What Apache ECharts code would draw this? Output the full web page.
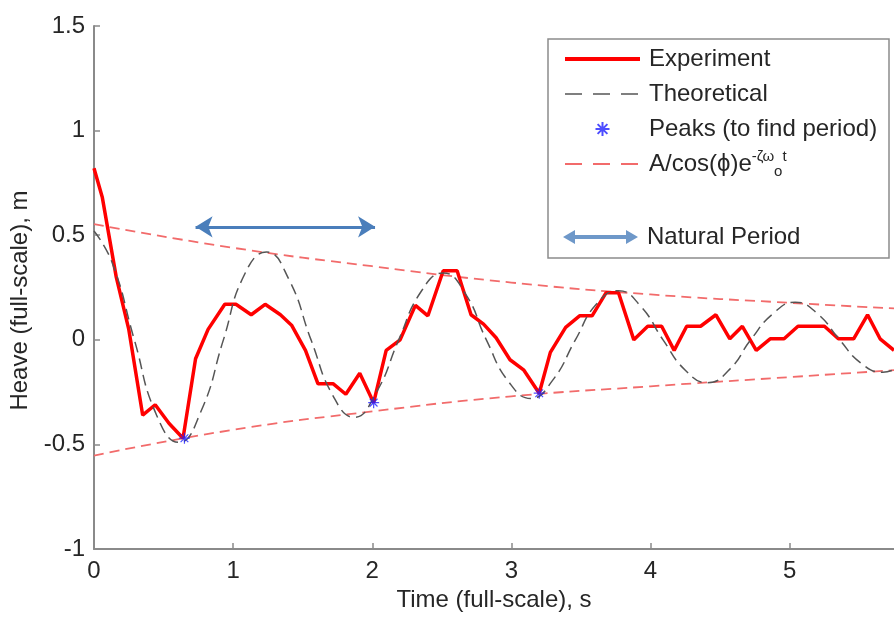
<!DOCTYPE html>
<html>
<head>
<meta charset="utf-8">
<title>Heave decay</title>
<script src="https://cdn.jsdelivr.net/npm/echarts@6/dist/echarts.min.js"></script>
<style>
  html, body { margin: 0; padding: 0; background: #fff; }
  #chart { width: 894px; height: 617px; }
</style>
</head>
<body>
<div id="chart"></div>
<script>
// measured experiment trace (time s, heave m)
const expTime = [0, 0.06, 0.16, 0.25, 0.35, 0.44, 0.54, 0.64, 0.73, 0.82,
  0.94, 1.02, 1.13, 1.23, 1.34, 1.42, 1.52, 1.61, 1.72, 1.81,
  1.91, 2.01, 2.10, 2.20, 2.31, 2.40, 2.51, 2.61, 2.71, 2.80,
  2.89, 2.99, 3.09, 3.20, 3.28, 3.39, 3.49, 3.58, 3.68, 3.77,
  3.88, 3.98, 4.08, 4.17, 4.26, 4.36, 4.47, 4.57, 4.66, 4.76,
  4.86, 4.96, 5.06, 5.16, 5.25, 5.35, 5.46, 5.56, 5.65, 5.75];
const expHeave = [0.82, 0.68, 0.30, 0.05, -0.36, -0.31, -0.40, -0.47, -0.09, 0.05,
  0.17, 0.17, 0.12, 0.17, 0.12, 0.07, -0.05, -0.21, -0.21, -0.26,
  -0.16, -0.30, -0.05, 0.0, 0.165, 0.115, 0.33, 0.33, 0.12, 0.075,
  0.01, -0.095, -0.145, -0.255, -0.06, 0.06, 0.115, 0.115, 0.225, 0.225,
  0.0, 0.065, 0.065, -0.05, 0.065, 0.065, 0.12, 0.005, 0.065, -0.05,
  0.005, 0.005, 0.065, 0.065, 0.065, 0.005, 0.005, 0.12, 0.005, -0.05];

// theoretical curve
const theoTime = [0, 0.13, 0.29, 0.45, 0.61, 0.77, 0.93, 1.08, 1.24, 1.40,
  1.56, 1.72, 1.87, 2.03, 2.19, 2.35, 2.51, 2.67, 2.82, 2.98,
  3.14, 3.30, 3.46, 3.61, 3.77, 3.93, 4.09, 4.25, 4.41, 4.57,
  4.72, 4.88, 5.04, 5.20, 5.36, 5.51, 5.67, 5.83];
const theoHeave = [0.52, 0.37, 0.0, -0.36, -0.49, -0.34, 0.0, 0.31, 0.42, 0.29,
  0.0, -0.27, -0.37, -0.25, 0.0, 0.23, 0.32, 0.22, 0.0, -0.20,
  -0.28, -0.19, 0.0, 0.17, 0.235, 0.16, 0.0, -0.145, -0.205, -0.14,
  0.0, 0.125, 0.18, 0.125, 0.0, -0.11, -0.155, -0.11];

// peaks used to find the period
const peakTime = [0.65, 2.01, 3.20];
const peakHeave = [-0.47, -0.30, -0.255];

// decay envelope
const envTime = [0, 1, 2, 3, 4, 5, 5.75];
const envUpper = [0.553, 0.44, 0.352, 0.274, 0.217, 0.177, 0.15];
const envLower = [-0.553, -0.43, -0.342, -0.27, -0.222, -0.178, -0.145];

// natural period arrow (data units)
const periodStart = [0.73, 0.54];
const periodEnd = [2.02, 0.54];

const xTicks = { min: 0, max: 5.75, step: 1 };
const yTicks = { min: -1, max: 1.5, step: 0.5 };

const envName = 'A/cos(ϕ)e-ζωot';
const font = '"Liberation Sans", Arial, sans-serif';
const textColor = '#262626';
const axisColor = '#8a8a8a';

const pairs = (xs, ys) => xs.map((x, i) => [x, ys[i]]);

const starPath = 'path://M5,0L5,10M0,5L10,5M1.5,1.5L8.5,8.5M1.5,8.5L8.5,1.5';
const arrowPath = 'path://M0,7L12,0L12,5L63,5L63,0L75,7L63,14L63,9L12,9L12,14Z';
const noDot = { opacity: 0 };

const chart = echarts.init(document.getElementById('chart'));

chart.setOption({
  animation: false,
  backgroundColor: '#fff',
  textStyle: { fontFamily: font },
  grid: { left: 94, top: 26, right: 0, bottom: 62, containLabel: false },
  graphic: [{
    type: 'rect',
    z: 1,
    shape: { x: 548, y: 39, width: 341, height: 219 },
    style: { fill: '#fff', stroke: '#8c8c8c', lineWidth: 1.5 }
  }],
  legend: [{
    orient: 'vertical',
    left: 563, top: 44, padding: 0,
    itemWidth: 75, itemHeight: 14, itemGap: 5,
    selectedMode: false,
    z: 5,
    textStyle: {
      fontFamily: font, fontSize: 24, color: textColor, lineHeight: 30,
      padding: [0, 0, 0, 4],
      rich: {
        n: { fontFamily: font, fontSize: 24, color: textColor, lineHeight: 30 },
        sup: { fontFamily: font, fontSize: 15, color: textColor, lineHeight: 15, verticalAlign: 'top' },
        sub: { fontFamily: font, fontSize: 15, color: textColor, lineHeight: 13, verticalAlign: 'bottom' }
      }
    },
    formatter: name => name === envName
      ? '{n|A/cos(ϕ)e}{sup|-ζω}{sub|o}{sup|t}'
      : name,
    data: [
      { name: 'Experiment', itemStyle: noDot, lineStyle: { width: 4 } },
      { name: 'Theoretical', itemStyle: noDot, lineStyle: { width: 1.6, type: [17, 11] } },
      { name: 'Peaks (to find period)', icon: starPath },
      { name: envName, itemStyle: noDot, lineStyle: { width: 1.8, type: [17, 11] } }
    ]
  }, {
    orient: 'vertical',
    left: 563, top: 222, padding: 0,
    itemWidth: 75, itemHeight: 14,
    selectedMode: false,
    z: 5,
    textStyle: { fontFamily: font, fontSize: 24, color: textColor, lineHeight: 30, padding: [0, 0, 0, 4] },
    data: [{ name: 'Natural Period', icon: arrowPath }]
  }],
  xAxis: {
    type: 'value',
    min: xTicks.min, max: xTicks.max, interval: xTicks.step,
    name: 'Time (full-scale), s',
    nameLocation: 'middle', nameGap: 38,
    nameTextStyle: { fontFamily: font, fontSize: 24, color: textColor },
    axisLine: { show: true, onZero: false, lineStyle: { color: axisColor, width: 2 } },
    axisTick: { show: true, inside: true, length: 6, lineStyle: { color: axisColor, width: 1.5 } },
    axisLabel: { fontFamily: font, fontSize: 24, color: textColor, margin: 10, showMaxLabel: false },
    splitLine: { show: false }
  },
  yAxis: {
    type: 'value',
    min: yTicks.min, max: yTicks.max, interval: yTicks.step,
    name: 'Heave (full-scale), m',
    nameLocation: 'middle', nameGap: 60,
    nameTextStyle: { fontFamily: font, fontSize: 24, color: textColor, padding: [0, 26, 0, 0] },
    axisLine: { show: true, onZero: false, lineStyle: { color: axisColor, width: 2 } },
    axisTick: { show: true, inside: true, length: 6, lineStyle: { color: axisColor, width: 1.5 } },
    axisLabel: { fontFamily: font, fontSize: 24, color: textColor, margin: 9 },
    splitLine: { show: false }
  },
  series: [{
    name: 'Experiment',
    type: 'line',
    data: pairs(expTime, expHeave),
    symbol: 'none',
    color: '#ff0000',
    lineStyle: { color: '#ff0000', width: 3.5 },
    z: 3
  }, {
    name: 'Theoretical',
    type: 'line',
    data: pairs(theoTime, theoHeave),
    smooth: 0.5,
    symbol: 'none',
    color: '#555555',
    lineStyle: { color: '#555555', width: 1.5, type: [11, 6] },
    z: 4
  }, {
    name: 'Peaks (to find period)',
    type: 'scatter',
    data: pairs(peakTime, peakHeave),
    symbol: starPath,
    symbolSize: 11,
    color: '#2020ff',
    itemStyle: { color: 'none', borderColor: '#2020ff', borderWidth: 1.2 },
    z: 6
  }, {
    name: envName,
    type: 'line',
    data: pairs(envTime, envUpper),
    smooth: true,
    symbol: 'none',
    color: '#f26b6b',
    lineStyle: { color: '#f26b6b', width: 1.8, type: [10, 6] },
    z: 2
  }, {
    name: envName,
    type: 'line',
    data: pairs(envTime, envLower),
    smooth: true,
    symbol: 'none',
    color: '#f26b6b',
    lineStyle: { color: '#f26b6b', width: 1.8, type: [10, 6] },
    z: 2
  }, {
    name: 'Natural Period',
    type: 'scatter',
    data: [],
    color: '#4a7ebb',
    itemStyle: { color: '#4a7ebb' },
    markLine: {
      silent: true,
      symbol: ['arrow', 'arrow'],
      symbolSize: [16, 17],
      label: { show: false },
      lineStyle: { color: '#4a7ebb', width: 3, type: 'solid' },
      data: [[{ coord: periodStart }, { coord: periodEnd }]]
    }
  }]
});
</script>
</body>
</html>
